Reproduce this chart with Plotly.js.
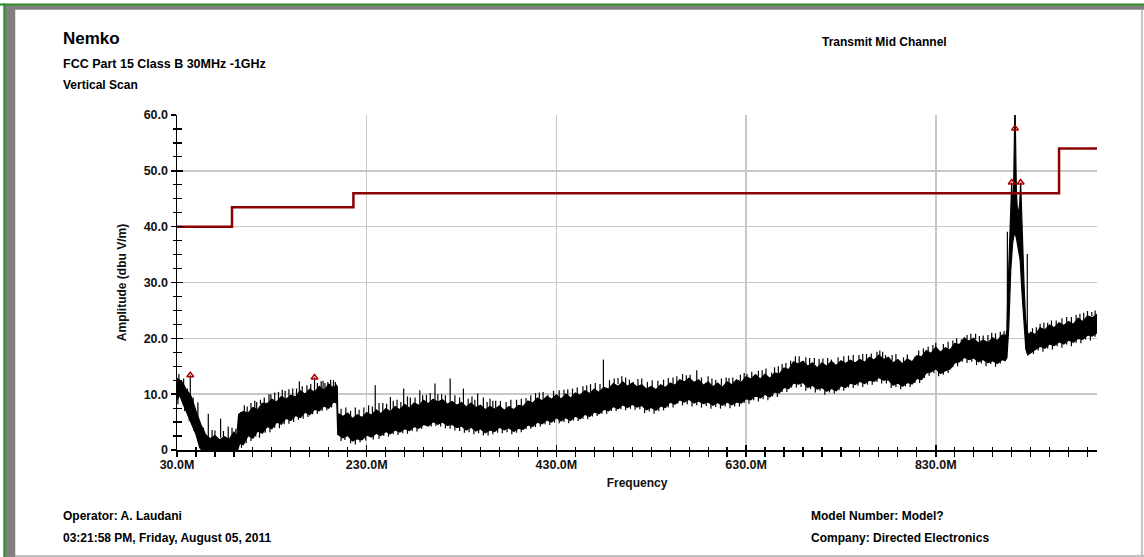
<!DOCTYPE html>
<html>
<head>
<meta charset="utf-8">
<script src="https://cdn.plot.ly/plotly-3.0.1.min.js"></script>
<style>
  html, body { margin: 0; padding: 0; background: #fff; }
  #chart { width: 1144px; height: 557px; }
</style>
</head>
<body>
<div id="chart"></div>
<script>
// ---- Sweep data (MHz, dBuV/m) ----
// Lower edge of the measured noise band
const lowerFreq = [30, 33, 36, 40, 45, 50, 54, 56, 94, 96, 100, 105, 110, 115, 120, 125, 130, 135, 140, 145, 150, 155, 160,
  165, 170, 175, 180, 185, 190, 195, 198.5, 199.5, 205, 210, 215, 220, 225, 230, 235, 240, 245, 250, 255, 260, 265, 270, 275,
  280, 285, 290, 295, 300, 305, 310, 315, 320, 325, 330, 335, 340, 345, 350, 355, 360, 365, 370, 375, 380, 385, 390, 395, 400,
  405, 410, 415, 420, 425, 430, 435, 440, 445, 450, 455, 460, 465, 470, 475, 480, 485, 490, 495, 500, 505, 510, 515, 520, 525,
  530, 535, 540, 545, 550, 555, 560, 565, 570, 575, 580, 585, 590, 595, 600, 605, 610, 615, 620, 625, 630, 635, 640, 645, 650,
  655, 660, 665, 670, 675, 680, 685, 690, 695, 700, 705, 710, 715, 720, 725, 730, 735, 740, 745, 750, 755, 760, 765, 770, 775,
  780, 785, 790, 795, 800, 805, 810, 815, 820, 825, 830, 835, 840, 845, 850, 855, 860, 865, 870, 875, 880, 885, 890, 895, 900,
  903, 905, 907, 909, 911, 913, 915, 917, 919, 921, 923, 925, 927, 929, 935, 940, 945, 950, 955, 960, 965, 970, 975, 980, 985,
  990, 995, 1000];
const lowerLevel = [9.0, 9.8, 8.4, 6.8, 4.6, 2.8, 0.4, 0, 0, 1.2, 1.0, 2.6, 2.1, 3.4, 3.0, 4.2, 3.8, 5.0, 4.6, 5.7, 5.3, 6.2, 5.8,
  6.8, 6.3, 7.3, 7.0, 7.9, 7.5, 8.6, 8.4, 2.8, 2.2, 2.6, 1.6, 2.0, 1.8, 2.7, 2.3, 3.0, 2.6, 3.3, 2.9, 3.6, 3.2, 3.8, 3.5,
  4.2, 3.9, 4.6, 4.3, 5.1, 4.6, 5.0, 4.4, 4.6, 4.0, 4.3, 3.6, 4.1, 3.4, 3.8, 3.1, 3.6, 3.3, 4.1, 3.6, 4.0, 3.3, 3.9, 3.7, 4.5,
  4.2, 5.0, 4.7, 5.4, 5.0, 5.8, 5.2, 5.8, 5.3, 6.1, 5.6, 6.4, 6.0, 6.8, 6.5, 7.3, 7.0, 7.8, 7.4, 8.1, 7.6, 8.2, 7.7, 8.0, 7.2,
  7.6, 7.1, 7.9, 7.6, 8.6, 8.2, 9.0, 8.6, 9.1, 8.4, 8.8, 8.3, 8.6, 8.0, 8.5, 8.0, 8.6, 8.1, 8.6, 8.4, 9.2, 9.0, 9.8, 9.3, 10.0,
  9.5, 10.4, 10.2, 11.2, 11.0, 12.0, 11.8, 12.1, 11.2, 11.6, 10.9, 11.2, 10.5, 11.0, 10.6, 11.5, 11.2, 12.0, 11.7, 12.3, 11.9,
  12.5, 12.3, 13.0, 12.5, 12.6, 11.6, 12.0, 11.4, 12.1, 11.8, 12.8, 12.6, 13.8, 14.0, 14.6, 13.7, 14.2, 14.5, 15.6, 15.8, 16.6,
  16.2, 16.5, 15.8, 16.2, 15.6, 16.0, 15.5, 16.2, 16.0, 16.5, 22, 32, 37, 39, 38, 36, 34, 28, 22, 18, 17, 17.3, 18.0, 18.6,
  18.2, 19.0, 18.7, 19.4, 19.0, 19.7, 19.3, 20.0, 19.8, 20.6, 20.4, 21.0];

// Upper edge of the measured noise band
const upperFreq = [30, 35, 40, 45, 50, 55, 60, 65, 70, 75, 80, 85, 90, 93, 95, 100, 105, 110, 115, 120, 125, 130, 135, 140, 145,
  150, 155, 160, 165, 170, 175, 180, 185, 190, 195, 198, 199, 199.5, 205, 210, 215, 220, 225, 230, 235, 240, 245, 250, 255, 260,
  265, 270, 275, 280, 285, 290, 295, 300, 305, 310, 315, 320, 325, 330, 335, 340, 345, 350, 355, 360, 365, 370, 375, 380, 385,
  390, 395, 400, 405, 410, 415, 420, 425, 430, 435, 440, 445, 450, 455, 460, 465, 470, 475, 480, 485, 490, 495, 500, 505, 510,
  515, 520, 525, 530, 535, 540, 545, 550, 555, 560, 565, 570, 575, 580, 585, 590, 595, 600, 605, 610, 615, 620, 625, 630, 635,
  640, 645, 650, 655, 660, 665, 670, 675, 680, 685, 690, 695, 700, 705, 710, 715, 720, 725, 730, 735, 740, 745, 750, 755, 760,
  765, 770, 775, 780, 785, 790, 795, 800, 805, 810, 815, 820, 825, 830, 835, 840, 845, 850, 855, 860, 865, 870, 875, 880, 885,
  890, 895, 900, 904, 905, 906, 908, 909.3, 910.1, 910.8, 912, 913.5, 915, 916.5, 918.5, 919.5, 920.3, 921.5, 923, 924.5, 926,
  928, 930, 935, 940, 945, 950, 955, 960, 965, 970, 975, 980, 985, 990, 995, 1000];
const upperLevel = [12.8, 12.3, 10.8, 9.6, 7.0, 4.6, 2.8, 2.0, 2.6, 1.8, 2.4, 1.9, 3.2, 2.4, 6.4, 6.9, 6.6, 7.6, 7.2, 8.4, 8.3,
  9.1, 8.6, 9.6, 9.1, 9.8, 9.5, 10.6, 10.0, 10.9, 10.3, 11.4, 10.7, 11.8, 11.1, 11.6, 11.4, 6.6, 6.0, 6.6, 5.6, 6.3, 5.8, 6.7,
  6.2, 7.2, 6.5, 7.4, 6.9, 7.8, 7.2, 8.2, 7.5, 8.4, 8.0, 8.9, 8.3, 9.1, 8.6, 9.0, 8.2, 8.7, 8.0, 8.5, 7.7, 8.4, 7.6, 8.0, 7.2,
  7.8, 7.3, 7.9, 7.1, 7.8, 7.2, 8.0, 7.8, 8.8, 8.4, 9.3, 8.8, 9.6, 9.1, 9.9, 9.1, 10.0, 9.3, 10.2, 9.8, 10.6, 10.1, 10.9, 10.3,
  11.2, 10.9, 11.9, 11.4, 12.2, 11.4, 12.0, 11.3, 11.7, 10.9, 11.4, 10.8, 11.7, 11.2, 12.0, 11.6, 12.6, 12.2, 12.9, 12.1, 12.6,
  11.6, 12.2, 11.3, 12.0, 11.2, 12.2, 11.7, 12.6, 12.1, 13.1, 12.7, 13.5, 12.7, 13.6, 12.8, 13.8, 13.6, 14.7, 14.4, 15.8, 15.4,
  15.9, 15.0, 15.6, 14.7, 15.6, 15.0, 15.9, 15.1, 16.0, 15.5, 16.1, 15.6, 16.2, 15.7, 16.6, 16.1, 17.0, 16.2, 16.6, 15.6, 16.2,
  15.4, 16.3, 15.8, 16.9, 16.7, 17.8, 17.3, 18.4, 17.5, 18.3, 17.9, 19.1, 18.9, 20.1, 19.5, 20.0, 19.1, 19.7, 19.2, 20.1, 19.6,
  20.6, 20.5, 21.5, 28, 40, 44, 47.9, 44, 46, 63, 46, 42, 44, 47.9, 43, 38, 30, 24, 21.5, 20.5, 21.1, 20.7, 21.9, 21.5, 22.4,
  21.9, 22.8, 22.3, 23.0, 22.5, 23.6, 23.0, 24.0, 23.7, 24.3];

// Narrow spurs standing above the band
const spikeFreq = [41, 44, 52, 63, 70, 76, 84, 88, 97, 101, 112, 118, 127, 133, 141, 148, 152, 159, 167, 175, 182, 186, 189,
  192, 195, 208, 222, 232, 239, 247, 255, 262, 269, 276, 286, 293, 302, 309, 318, 323, 332, 341, 347, 353, 360, 366, 382, 398,
  412, 421, 427, 438, 447, 458, 466, 479.6, 486, 495, 503, 511, 520, 537, 548, 557, 563, 571, 578, 590, 604, 616, 624, 631, 643,
  651, 657, 664, 672, 686, 693, 702, 711, 720, 727, 738, 749, 757, 768, 771, 777, 784, 796, 808, 812, 822, 830, 838, 848, 857,
  863, 872, 880, 889, 898, 902, 905.5, 926.5, 936, 944, 952, 968, 978, 986, 994.5, 998];
const spikeTop = [11.0, 13.4, 8.5, 6.5, 3.5, 5.6, 4.2, 4.0, 6.8, 8.0, 8.8, 9.0, 10.0, 10.3, 10.8, 10.9, 11.0, 12.3, 11.6, 13.0,
  12.3, 12.0, 12.2, 12.6, 12.5, 7.6, 7.2, 8.0, 11.6, 8.4, 9.5, 9.0, 11.0, 9.4, 10.7, 9.9, 11.9, 10.0, 12.8, 9.8, 11.0, 9.6, 10.1,
  9.4, 9.2, 8.8, 9.0, 9.3, 10.3, 9.9, 10.6, 10.8, 11.0, 11.4, 11.8, 16.2, 12.5, 12.9, 13.0, 12.2, 12.8, 12.4, 12.9, 13.2, 13.6,
  13.5, 14.3, 13.2, 12.8, 13.0, 13.5, 13.6, 14.2, 14.6, 13.9, 15.0, 15.6, 16.8, 16.6, 16.5, 16.4, 16.2, 16.6, 16.9, 17.0, 17.2,
  17.6, 17.8, 17.0, 17.0, 16.6, 16.7, 17.8, 18.5, 19.2, 19.0, 19.6, 19.8, 20.6, 20.8, 20.5, 21.0, 21.2, 21.3, 39.1, 35.1, 22.0,
  22.8, 23.2, 23.8, 24.2, 24.6, 24.7, 25.0];
const spikeBase = [10.5, 9.3, 6.0, 2.2, 2.0, 2.2, 2.0, 2.4, 6.2, 6.9, 7.4, 8.2, 8.7, 8.8, 9.5, 9.6, 9.6, 10.2, 10.3, 10.4,
  11.2, 10.9, 11.4, 11.6, 11.2, 6.3, 6.1, 6.5, 6.8, 6.8, 7.2, 7.6, 7.7, 7.7, 8.3, 8.6, 8.7, 8.8, 8.3, 8.4, 7.9, 8.2, 7.8,
  7.5, 7.4, 7.5, 7.6, 8.2, 9.2, 9.2, 9.3, 9.8, 9.6, 10.0, 10.3, 10.8, 11.0, 11.8, 11.6, 11.6, 11.5, 11.2, 11.7, 12.0, 12.4,
  12.6, 12.3, 12.0, 11.5, 12.0, 12.3, 12.8, 13.1, 13.3, 13.2, 13.7, 14.5, 15.5, 15.4, 15.4, 15.3, 15.5, 15.5, 15.8, 16.0, 16.0,
  16.6, 16.8, 16.4, 16.0, 15.6, 16.3, 16.7, 17.4, 18.0, 18.0, 18.3, 19.4, 19.8, 19.9, 19.6, 19.6, 20.0, 20.4, 22, 21, 20.9,
  21.6, 22.2, 22.8, 23.0, 23.2, 24.0, 24.0];

// Short excursions on the upper edge of the band
const hairFreq = [32, 37, 47, 58, 67, 79, 92, 104, 108, 114, 122, 129, 137, 144, 156, 162, 171, 178, 184, 197, 203, 213, 218,
  227, 236, 243, 251, 258, 266, 273, 281, 289, 297, 305, 313, 328, 337, 344, 357, 363, 371, 377, 388, 393, 403, 408, 416, 433,
  442, 452, 462, 471, 476, 491, 499, 507, 516, 526, 531, 543, 553, 567, 583, 594, 598, 609, 612, 628, 636, 647, 660, 668, 677,
  682, 697, 707, 716, 733, 743, 753, 762, 774, 788, 800, 817, 827, 843, 852, 867, 876, 885, 893, 932, 940, 948, 957, 963, 973,
  982, 990];
const hairTop = [13.6, 12.8, 9.4, 4.0, 3.6, 3.4, 3.8, 7.8, 8.4, 8.6, 9.4, 10.0, 10.4, 10.6, 11.0, 11.4, 11.8, 12.0, 12.4, 12.2,
  7.4, 7.0, 7.6, 7.6, 7.8, 8.4, 8.3, 8.8, 8.6, 9.6, 9.4, 9.8, 10.2, 10.0, 9.8, 9.4, 9.2, 9.0, 8.6, 8.8, 8.8, 8.6, 9.0, 9.2,
  9.8, 10.2, 10.4, 10.7, 10.9, 11.2, 11.6, 12.0, 11.8, 12.8, 13.2, 12.6, 12.7, 12.2, 12.5, 12.6, 13.0, 13.4, 13.0, 12.8, 12.6,
  13.0, 12.9, 13.8, 14.0, 14.3, 14.8, 15.4, 16.0, 16.8, 16.5, 16.3, 16.5, 16.8, 17.0, 17.2, 17.3, 17.6, 17.2, 17.1, 18.2, 18.8,
  19.4, 20.0, 20.8, 20.4, 20.6, 20.9, 21.8, 22.6, 22.8, 23.2, 23.6, 23.8, 24.4, 24.9];
const hairBase = [11, 10, 6, 1.5, 1.2, 1.2, 1.5, 5, 5, 6, 6, 7, 7, 8, 8, 8, 9, 9, 10, 10, 4.5, 4.5, 4.5, 4.5, 5, 5, 5, 5.5, 6,
  6, 6.5, 6.5, 7, 7, 7, 6.5, 6.5, 6, 6, 6, 5.5, 5.5, 6, 6, 6.5, 7, 7, 7.5, 8, 8, 8.5, 9, 9, 10, 10, 10, 10, 10, 10, 10, 10.5,
  11, 11, 10.5, 10.5, 10.5, 10.5, 11, 11, 11.5, 12, 12.5, 13, 14, 14, 13.5, 13.5, 14, 14, 14.5, 14.5, 15, 14.5, 14, 15, 16,
  16.5, 17, 18, 18, 18, 18, 19.5, 20, 20, 20.5, 21, 21, 21.5, 22];

// Short dips on the lower edge of the band
const notchFreq = [31, 38, 43, 48, 98, 103, 108, 113, 117, 123, 128, 133, 138, 143, 148, 153, 158, 163, 168, 173, 178, 183,
  188, 193, 203, 207, 213, 218, 223, 229, 237, 243, 248, 253, 258, 263, 268, 273, 278, 283, 288, 298, 303, 308, 313, 318, 323,
  328, 333, 338, 343, 348, 353, 358, 363, 368, 373, 378, 383, 388, 393, 398, 403, 408, 413, 418, 423, 428, 433, 438, 443, 448,
  453, 458, 463, 468, 473, 478, 483, 488, 493, 498, 503, 508, 513, 518, 523, 528, 533, 538, 543, 548, 553, 558, 563, 568, 573,
  578, 583, 588, 593, 598, 603, 608, 613, 618, 623, 628, 633, 638, 643, 648, 653, 658, 663, 668, 673, 678, 683, 688, 693, 698,
  703, 708, 713, 718, 723, 728, 733, 738, 743, 748, 753, 758, 763, 768, 773, 778, 783, 788, 793, 798, 803, 808, 813, 818, 823,
  828, 833, 838, 843, 848, 853, 858, 863, 868, 873, 878, 883, 888, 893, 898, 933, 938, 943, 948, 953, 958, 963, 968, 973, 978,
  983, 988, 993, 998];
const notchBottom = [8.2, 7.0, 5.2, 3.4, 0.4, 1.2, 1.6, 2.4, 2.2, 3.1, 3.2, 4.0, 3.9, 4.6, 4.7, 5.0, 5.4, 5.6, 5.9, 6.4, 6.5,
  7.0, 7.1, 7.6, 1.6, 1.8, 1.2, 1.0, 1.4, 1.7, 1.9, 2.0, 2.5, 2.4, 2.8, 2.7, 3.0, 2.9, 3.4, 3.3, 3.8, 4.2, 4.3, 4.2, 3.9, 3.8,
  3.5, 3.4, 3.1, 3.2, 2.8, 3.0, 2.6, 2.6, 2.8, 3.1, 3.0, 3.2, 2.8, 3.1, 3.2, 3.7, 3.8, 4.1, 4.2, 4.6, 4.5, 4.9, 4.8, 5.0, 4.8,
  5.3, 5.2, 5.6, 5.5, 6.0, 6.1, 6.5, 6.5, 7.0, 7.0, 7.3, 7.1, 7.4, 7.2, 7.3, 6.6, 6.9, 6.5, 7.0, 7.1, 7.6, 7.6, 8.3, 8.0, 8.2,
  7.8, 8.0, 7.6, 7.9, 7.4, 7.7, 7.4, 7.8, 7.5, 7.8, 7.8, 8.4, 8.3, 8.9, 8.7, 9.1, 8.9, 9.6, 9.5, 10.4, 10.4, 11.2, 11.2, 11.3,
  10.6, 10.9, 10.3, 10.6, 9.9, 10.3, 10.1, 10.7, 10.6, 11.2, 11.1, 11.5, 11.3, 11.7, 11.7, 12.2, 11.9, 11.9, 11.1, 11.3, 10.9,
  11.4, 11.3, 12.0, 12.0, 12.9, 13.3, 13.8, 13.2, 13.5, 13.8, 14.8, 15.0, 15.8, 15.6, 15.8, 15.2, 15.5, 15.0, 15.4, 14.9, 15.5,
  17.2, 17.8, 17.6, 18.2, 18.0, 18.6, 18.3, 18.9, 18.6, 19.2, 19.1, 19.8, 19.6, 20.3];
const notchBase = [10, 9, 8, 6, 3, 3.5, 4, 5, 5, 6, 6, 7, 7, 7.5, 7.5, 8, 8, 8.5, 9, 9, 9.5, 9.5, 10, 10, 4, 4, 4, 4, 4, 4.5,
  5, 5, 5, 5.5, 5.5, 6, 6, 6, 6.5, 6.5, 6.5, 7, 7, 7, 6.5, 6.5, 6.5, 6, 6, 6, 6, 5.5, 5.5, 5.5, 5.5, 5.5, 5.5, 5.5, 5.5, 5.5,
  6, 6, 6.5, 6.5, 7, 7, 7, 7.5, 7.5, 7.5, 7.5, 8, 8, 8, 8.5, 8.5, 9, 9, 9, 9.5, 9.5, 10, 10, 10, 10, 10, 9.5, 9.5, 9.5, 9.5,
  10, 10, 10, 10.5, 10.5, 10.5, 10.5, 10.5, 10, 10, 10, 10, 10, 10, 10, 10, 10.5, 10.5, 11, 11, 11, 11.5, 11.5, 12, 12, 12.5,
  12.5, 13.5, 13.5, 13.5, 13.5, 13.5, 13, 13, 13, 13, 13, 13.5, 13.5, 14, 14, 14, 14, 14.5, 14.5, 15, 15, 14.5, 14, 14, 14,
  14, 14, 14.5, 15, 15.5, 16, 16.5, 16.5, 16.5, 16.5, 17, 17.5, 18, 18, 18, 18, 18, 18, 18, 18, 18, 19.5, 20, 20, 20.5, 20.5,
  21, 21, 21.5, 21.5, 22, 22, 22.5, 22.5, 23];

// FCC Part 15 Class B limit line
const limitFreq = [30, 88, 216, 960, 1000];
const limitLevel = [40, 43.5, 46, 54, 54];

// Peak markers
const markerFreq = [44, 175, 910.1, 913.5, 919.5];
const markerLevel = [13.4, 13.0, 47.9, 57.6, 47.9];

// Axis ticks
const xTickVals = [30, 230, 430, 630, 830];
const xTickText = ['30.0M', '230.0M', '430.0M', '630.0M', '830.0M'];
const yTickVals = [0, 10, 20, 30, 40, 50, 60];
const yTickText = ['0', '10.0', '20.0', '30.0', '40.0', '50.0', '60.0'];

// ---- Drawing ----
const FONT = 'Liberation Sans, Arial, sans-serif';
const ML = 177, MR = 47, MT = 115, MB = 107, W = 1144, H = 557;
const PW = W - ML - MR, PH = H - MT - MB;
const px = X => (X - ML) / PW;
const py = Y => (H - MB - Y) / PH;

// vertical segments (freq, from, to) joined with gaps
const segX = [], segY = [];
function addSegments(freqs, from, to) {
  freqs.forEach((f, i) => {
    segX.push(f, f, null);
    segY.push(from[i], to[i], null);
  });
}
addSegments(spikeFreq, spikeBase, spikeTop);
addSegments(hairFreq, hairBase, hairTop);
addSegments(notchFreq, notchBase, notchBottom);

const traces = [
  { x: lowerFreq, y: lowerLevel, mode: 'lines', line: { color: '#000', width: 1.2 }, hoverinfo: 'skip' },
  { x: upperFreq, y: upperLevel, mode: 'lines', line: { color: '#000', width: 1.2 },
    fill: 'tonexty', fillcolor: '#000', hoverinfo: 'skip' },
  { x: segX, y: segY, mode: 'lines', line: { color: '#000', width: 1.2 }, hoverinfo: 'skip', connectgaps: false },
  { x: limitFreq, y: limitLevel, mode: 'lines', line: { color: '#8b0000', width: 2.5, shape: 'hv' }, hoverinfo: 'skip' },
  { x: markerFreq, y: markerLevel, mode: 'markers',
    marker: { symbol: 'triangle-up-open', size: 6, color: '#b00000', line: { color: '#b00000', width: 1.5 } } },
  // carrier for the inner tick marks
  { x: limitFreq, y: limitLevel, mode: 'lines', xaxis: 'x2', yaxis: 'y2', opacity: 0, line: { width: 0 }, hoverinfo: 'skip' }
];

const tickFont = { family: FONT, size: 12.5, color: '#111', weight: 'bold' };
const txt = (X, Y, text, size) => ({
  xref: 'paper', yref: 'paper', x: px(X), y: py(Y), xanchor: 'left', yanchor: 'middle',
  text, showarrow: false, font: { family: FONT, size: size, color: '#000', weight: 'bold' }
});
const frameRect = (x0, y0, x1, y1, color) => ({
  type: 'rect', xref: 'paper', yref: 'paper', x0: px(x0), y0: py(y0), x1: px(x1), y1: py(y1),
  fillcolor: color, line: { color: color, width: 0.5 }, layer: 'above'
});

const layout = {
  width: W, height: H,
  margin: { l: ML, r: MR, t: MT, b: MB, pad: 0 },
  paper_bgcolor: '#fff', plot_bgcolor: '#fff',
  showlegend: false,
  xaxis: {
    range: [30, 1000], tickmode: 'array', tickvals: xTickVals, ticktext: xTickText,
    ticks: 'outside', ticklen: 5, tickwidth: 1.5, tickcolor: '#000', ticklabelstandoff: -3,
    showline: true, linecolor: '#000', linewidth: 1.5,
    showgrid: true, gridcolor: '#c8c8c8', gridwidth: 1.5, zeroline: false,
    minor: { tick0: 30, dtick: 20, ticks: 'outside', ticklen: 5, tickwidth: 1.2, tickcolor: '#000', showgrid: false },
    tickfont: tickFont,
    title: { text: 'Frequency', font: { family: FONT, size: 12, color: '#111', weight: 'bold' }, standoff: 8 }
  },
  yaxis: {
    range: [0, 60], tickmode: 'array', tickvals: yTickVals, ticktext: yTickText,
    ticks: 'outside', ticklen: 5, tickwidth: 1.5, tickcolor: '#000',
    showline: true, linecolor: '#000', linewidth: 1.5,
    showgrid: true, gridcolor: '#c8c8c8', gridwidth: 1.5, zeroline: false,
    minor: { tick0: 0, dtick: 2.5, ticks: 'outside', ticklen: 3, tickwidth: 1.2, tickcolor: '#000', showgrid: false },
    tickfont: tickFont,
    title: { text: 'Amplitude (dbu V/m)', font: { family: FONT, size: 12, color: '#111', weight: 'bold' }, standoff: 14 }
  },
  xaxis2: {
    overlaying: 'x', anchor: 'y', side: 'bottom', range: [30, 1000],
    tickmode: 'array', tickvals: xTickVals, showticklabels: false,
    ticks: 'inside', ticklen: 5, tickwidth: 1.5, tickcolor: '#000',
    showline: false, showgrid: false, zeroline: false,
    minor: { tick0: 30, dtick: 20, ticks: 'inside', ticklen: 3, tickwidth: 1.2, tickcolor: '#000', showgrid: false }
  },
  yaxis2: {
    overlaying: 'y', anchor: 'x', side: 'left', range: [0, 60],
    tickmode: 'array', tickvals: yTickVals, showticklabels: false,
    ticks: 'inside', ticklen: 6, tickwidth: 1.5, tickcolor: '#000',
    showline: false, showgrid: false, zeroline: false,
    minor: { tick0: 0, dtick: 2.5, ticks: 'inside', ticklen: 5, tickwidth: 1.2, tickcolor: '#000', showgrid: false }
  },
  annotations: [
    txt(61, 38.5, 'Nemko', 17),
    txt(61, 64, 'FCC Part 15 Class B 30MHz -1GHz', 12.5),
    txt(61, 85, 'Vertical Scan', 12),
    txt(820, 42, 'Transmit Mid Channel', 12),
    txt(61, 515.5, 'Operator: A. Laudani', 12),
    txt(61, 537.5, '03:21:58 PM, Friday, August 05, 2011', 12),
    txt(809, 515.5, 'Model Number: Model?', 12),
    txt(809, 537.5, 'Company: Directed Electronics', 12)
  ],
  shapes: [
    // window frame: grey bevel, green outline, light right/bottom edges
    frameRect(5, 5.3, W, 9.5, '#808080'),
    frameRect(5, 5.3, 15, H, '#808080'),
    frameRect(0, 3.8, W, 5.3, '#2f8f2f'),
    frameRect(3.6, 3.8, 5.1, H, '#2f8f2f'),
    frameRect(15, 555.4, W, 556.6, '#a8a8a8'),
    frameRect(1141.4, 9.5, 1142.6, 556, '#b4b4b4')
  ]
};

Plotly.newPlot('chart', traces, layout, { staticPlot: true, displayModeBar: false });
</script>
</body>
</html>
